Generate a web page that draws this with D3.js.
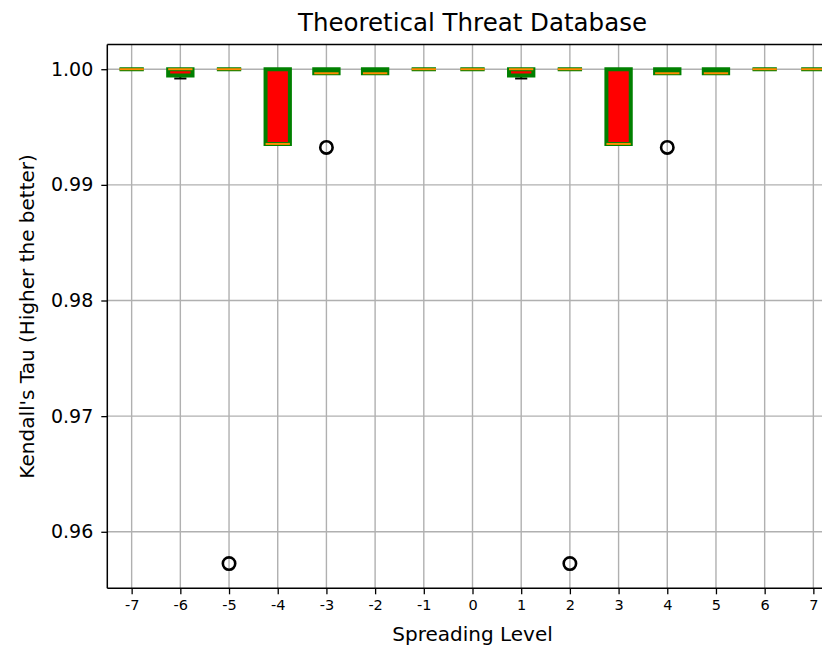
<!DOCTYPE html>
<meta charset="utf-8">
<style>
    body { margin: 0; background: #fff; }
    svg { font-family: "DejaVu Sans", sans-serif; display: block; }
    .grid line { stroke: #b0b0b0; stroke-width: 1.4; }
</style>
<svg width="822" height="645"></svg>
<script src="https://d3js.org/d3.v7.min.js"></script>
<script>
    // data (box stats per spreading level)
    var levels  = [-7, -6, -5, -4, -3, -2, -1, 0, 1, 2, 3, 4, 5, 6, 7];
    var q1      = [1, 0.99945, 1, 0.99354, 0.99965, 0.99965, 1, 1, 0.99945, 1, 0.99354, 0.99965, 0.99965, 1, 1];
    var medians = [1, 1, 1, 0.99354, 0.99965, 0.99965, 1, 1, 1, 1, 0.99354, 0.99965, 0.99965, 1, 1];
    var q3      = [1, 1, 1, 1, 1, 1, 1, 1, 1, 1, 1, 1, 1, 1, 1];
    var whiskLo = [1, 0.9992, 1, 0.99354, 0.99965, 0.99965, 1, 1, 0.9992, 1, 0.99354, 0.99965, 0.99965, 1, 1];
    var whiskHi = [1, 1, 1, 1, 1, 1, 1, 1, 1, 1, 1, 1, 1, 1, 1];
    var fliers  = [[], [], [0.95725], [], [0.99324], [], [], [], [], [0.95725], [], [0.99324], [], [], []];
    var yTicks  = [0.96, 0.97, 0.98, 0.99, 1.00];

    var svg = d3.select("svg");
    var axLeft = 107.3, axRight = 837.7, axTop = 44.5, axBottom = 588.3;

    // y limits like matplotlib's 5% margin
    var all = q1.concat(q3, whiskLo, whiskHi, d3.merge(fliers));
    var lo = d3.min(all), hi = d3.max(all), pad = (hi - lo) * 0.05;

    var x = d3.scaleLinear().domain([levels[0] - 0.5, levels[levels.length - 1] + 0.5]).range([axLeft, axRight]);
    var y = d3.scaleLinear().domain([lo - pad, hi + pad]).range([axBottom, axTop]);
    var boxW = x(0.5) - x(0);   // width 0.5
    var capW = boxW / 2;

    // grid
    var grid = svg.append("g").attr("class", "grid");
    grid.selectAll("line.v").data(levels).enter().append("line")
        .attr("x1", d => x(d)).attr("x2", d => x(d))
        .attr("y1", axTop).attr("y2", axBottom);
    grid.selectAll("line.h").data(yTicks).enter().append("line")
        .attr("x1", axLeft).attr("x2", axRight)
        .attr("y1", d => y(d)).attr("y2", d => y(d));

    var boxes = svg.append("g");
    levels.forEach(function (lv, i) {
        var cx = x(lv);
        var g = boxes.append("g");
        // whiskers
        g.append("line").attr("x1", cx).attr("x2", cx).attr("y1", y(q1[i])).attr("y2", y(whiskLo[i]))
            .attr("stroke", "#000").attr("stroke-width", 2);
        g.append("line").attr("x1", cx).attr("x2", cx).attr("y1", y(q3[i])).attr("y2", y(whiskHi[i]))
            .attr("stroke", "#000").attr("stroke-width", 2);
        // caps
        [whiskLo[i], whiskHi[i]].forEach(function (v) {
            g.append("line").attr("x1", cx - capW / 2).attr("x2", cx + capW / 2)
                .attr("y1", y(v)).attr("y2", y(v))
                .attr("stroke", "#000").attr("stroke-width", 2);
        });
        // box
        var x0 = cx - boxW / 2, x1 = cx + boxW / 2, yA = y(q3[i]), yB = y(q1[i]);
        g.append("path")
            .attr("d", "M" + x0 + "," + yA + "H" + x1 + "V" + yB + "H" + x0 + "Z")
            .attr("fill", "red").attr("stroke", "green").attr("stroke-width", 4)
            .attr("stroke-linejoin", "miter");
        // median
        g.append("line").attr("x1", x0).attr("x2", x1)
            .attr("y1", y(medians[i])).attr("y2", y(medians[i]))
            .attr("stroke", "#ff8c00").attr("stroke-width", 2);
        // fliers
        g.selectAll("circle").data(fliers[i]).enter().append("circle")
            .attr("cx", cx).attr("cy", d => y(d)).attr("r", 6.2)
            .attr("fill", "none").attr("stroke", "#000").attr("stroke-width", 2.6);
    });

    // spines
    svg.append("line").attr("x1", axLeft).attr("x2", axLeft).attr("y1", axTop).attr("y2", axBottom)
        .attr("stroke", "#000").attr("stroke-width", 1.5);
    svg.append("line").attr("x1", axLeft).attr("x2", axRight).attr("y1", axBottom).attr("y2", axBottom)
        .attr("stroke", "#000").attr("stroke-width", 1.5);
    svg.append("line").attr("x1", axLeft).attr("x2", axRight).attr("y1", axTop).attr("y2", axTop)
        .attr("stroke", "#000").attr("stroke-width", 1.5);
    svg.append("line").attr("x1", axRight).attr("x2", axRight).attr("y1", axTop).attr("y2", axBottom)
        .attr("stroke", "#000").attr("stroke-width", 1.5);

    // axes
    var xAxis = d3.axisBottom(x).tickValues(levels).tickSize(6).tickPadding(5)
        .tickFormat(d => String(d));
    svg.append("g").attr("transform", "translate(0," + axBottom + ")").call(xAxis)
        .call(g => g.select(".domain").remove())
        .call(g => g.selectAll("line").attr("stroke-width", 1.3))
        .call(g => g.selectAll("text").attr("font-size", 14.5).attr("font-family", "DejaVu Sans").attr("fill", "#000"));

    var yAxis = d3.axisLeft(y).tickValues(yTicks).tickSize(6).tickPadding(8)
        .tickFormat(d3.format(".2f"));
    svg.append("g").attr("transform", "translate(" + axLeft + ",0)").call(yAxis)
        .call(g => g.select(".domain").remove())
        .call(g => g.selectAll("line").attr("stroke-width", 1.3))
        .call(g => g.selectAll("text").attr("font-size", 19).attr("font-family", "DejaVu Sans").attr("fill", "#000"));

    // labels
    svg.append("text").attr("x", (axLeft + axRight) / 2).attr("y", 31)
        .attr("text-anchor", "middle").attr("font-size", 24.5).text("Theoretical Threat Database");
    svg.append("text").attr("x", (axLeft + axRight) / 2).attr("y", 641)
        .attr("text-anchor", "middle").attr("font-size", 20).text("Spreading Level");
    svg.append("text").attr("transform", "translate(34," + ((axTop + axBottom) / 2) + ") rotate(-90)")
        .attr("text-anchor", "middle").attr("font-size", 20).text("Kendall's Tau (Higher the better)");
</script>
